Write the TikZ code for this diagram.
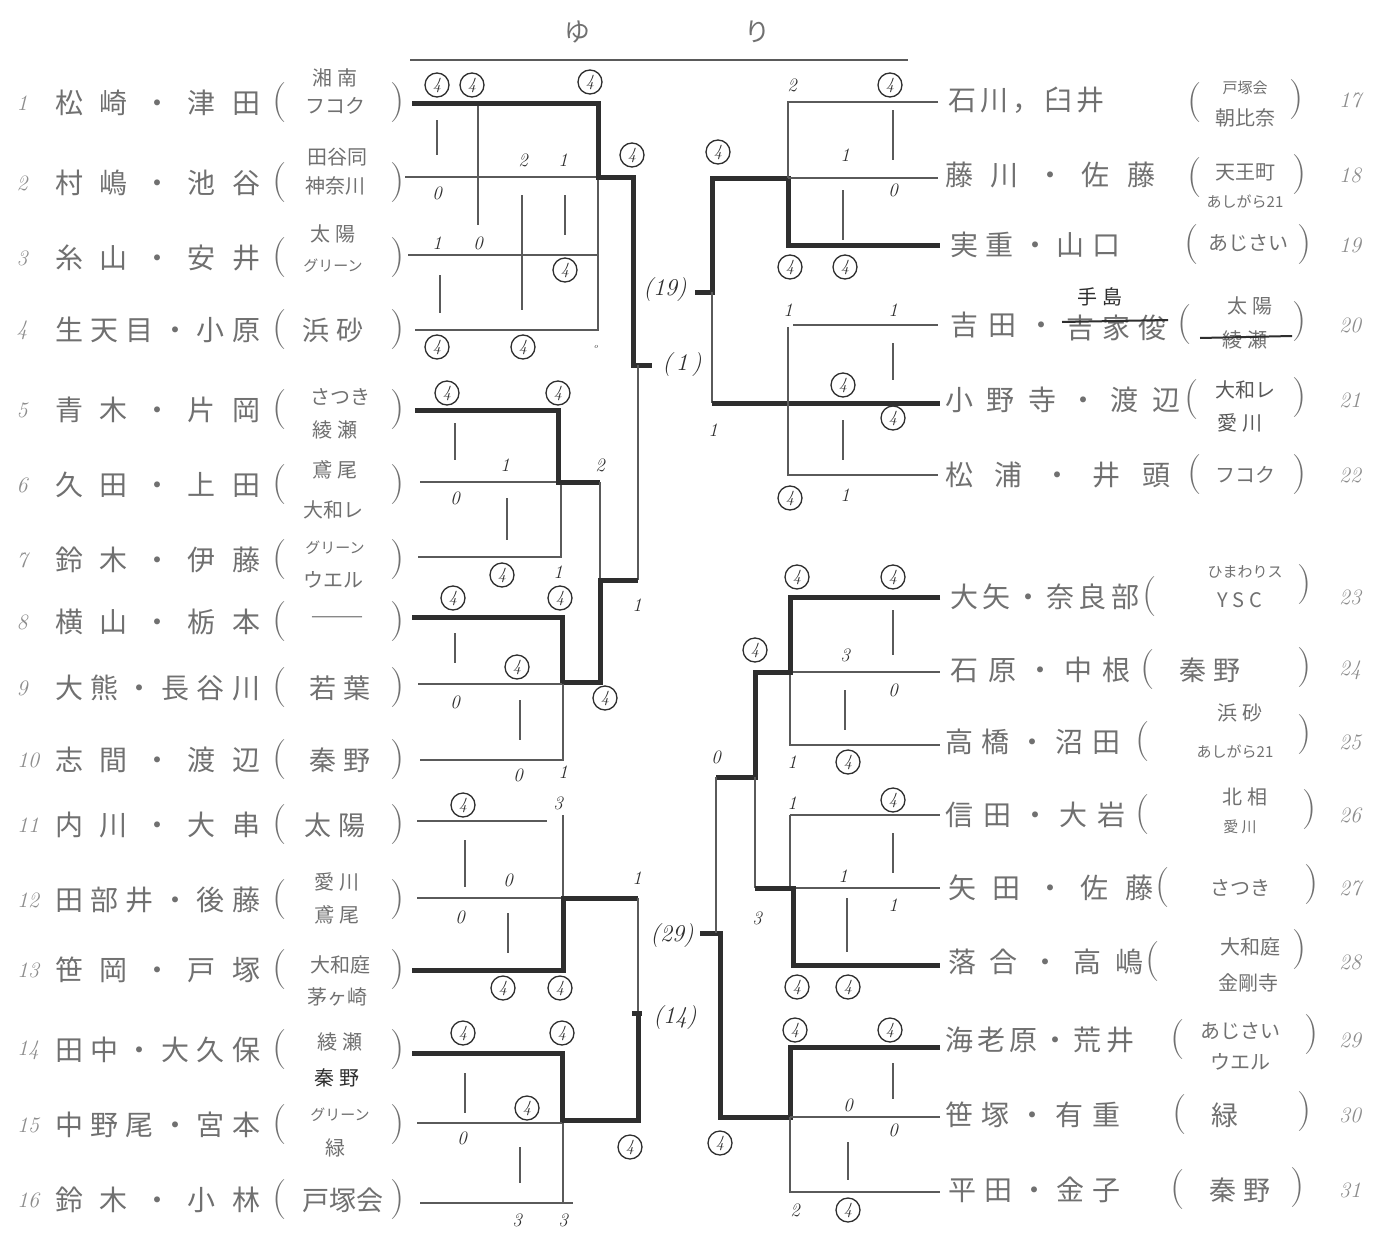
\documentclass[tikz,border=0pt]{standalone}
\usepackage{fontspec}
\newfontfamily\jp{Noto Sans CJK JP}
\definecolor{ink}{HTML}{2E2E2E}
\definecolor{pen}{HTML}{5A5A5A}
\definecolor{txt}{HTML}{707070}
\definecolor{paper}{HTML}{FFFFFF}
\tikzset{
  thinln/.style={draw=pen, line width=1.3pt},
  thickln/.style={draw=ink, line width=5pt, line join=miter},
  sc/.style={font=\fontsize{19}{19}\selectfont\itshape, text=ink, inner sep=0pt},
  cfour/.style={circle, draw=ink, line width=1.3pt, minimum size=24pt, inner sep=0pt, font=\fontsize{17}{17}\selectfont\itshape, text=ink},
  nm/.style={font=\fontsize{28}{28}\jp, text=txt, anchor=west, inner sep=0pt},
  num/.style={font=\fontsize{22}{22}\selectfont\itshape, text=txt!80, inner sep=0pt},
  par/.style={font=\fontsize{40}{40}\selectfont, text=txt, inner sep=0pt},
  club/.style={font=\fontsize{20}{20}\jp, text=txt, inner sep=0pt},
  clubs/.style={font=\fontsize{15}{15}\jp, text=txt, inner sep=0pt},
  clubl/.style={font=\fontsize{27}{27}\jp, text=txt, inner sep=0pt},
  lbl/.style={font=\fontsize{24}{24}\selectfont\itshape, text=ink, inner sep=0pt},
}
\newcommand\cf[3]{\node[cfour] (#1) at (#2,#3) {4};}
\newcommand\scr[4]{\node[sc] (#1) at (#2,#3) {#4};}
\newcommand\spread[2]{\makebox[#1][s]{#2}}
\begin{document}
\begin{tikzpicture}[x=1pt,y=-1pt]
\fill[paper] (0,0) rectangle (1383,1247);
\useasboundingbox (0,0) rectangle (1383,1247);

% title
\node[font=\fontsize{26}{26}\jp, text=txt] (ttl1) at (577,32) {ゆ};
\node[font=\fontsize{26}{26}\jp, text=txt] (ttl2) at (757,32) {り};
\draw[draw=pen, line width=1.2pt] (410,60) -- (908,60);

% ================= LEFT SIDE NAMES =================
\node[num] (n1) at (22,103) {1};
\node[nm] (m1) at (55,103) {\spread{205pt}{松 崎 ・ 津 田}};
\node[num] (n2) at (22,183) {2};
\node[nm] (m2) at (55,183) {\spread{205pt}{村 嶋 ・ 池 谷}};
\node[num] (n3) at (22,258) {3};
\node[nm] (m3) at (55,258) {\spread{205pt}{糸 山 ・ 安 井}};
\node[num] (n4) at (22,330) {4};
\node[nm] (m4) at (55,330) {\spread{205pt}{生 天 目 ・ 小 原}};
\node[num] (n5) at (22,410) {5};
\node[nm] (m5) at (55,410) {\spread{205pt}{青 木 ・ 片 岡}};
\node[num] (n6) at (22,485) {6};
\node[nm] (m6) at (55,485) {\spread{205pt}{久 田 ・ 上 田}};
\node[num] (n7) at (22,560) {7};
\node[nm] (m7) at (55,560) {\spread{205pt}{鈴 木 ・ 伊 藤}};
\node[num] (n8) at (22,622) {8};
\node[nm] (m8) at (55,622) {\spread{205pt}{横 山 ・ 栃 本}};
\node[num] (n9) at (22,688) {9};
\node[nm] (m9) at (55,688) {\spread{205pt}{大 熊 ・ 長 谷 川}};
\node[num] (n10) at (28,760) {10};
\node[nm] (m10) at (55,760) {\spread{205pt}{志 間 ・ 渡 辺}};
\node[num] (n11) at (28,825) {11};
\node[nm] (m11) at (55,825) {\spread{205pt}{内 川 ・ 大 串}};
\node[num] (n12) at (28,900) {12};
\node[nm] (m12) at (55,900) {\spread{205pt}{田 部 井 ・ 後 藤}};
\node[num] (n13) at (28,970) {13};
\node[nm] (m13) at (55,970) {\spread{205pt}{笹 岡 ・ 戸 塚}};
\node[num] (n14) at (28,1050) {14};
\node[nm] (m14) at (55,1050) {\spread{205pt}{田 中 ・ 大 久 保}};
\node[num] (n15) at (28,1125) {15};
\node[nm] (m15) at (55,1125) {\spread{205pt}{中 野 尾 ・ 宮 本}};
\node[num] (n16) at (28,1200) {16};
\node[nm] (m16) at (55,1200) {\spread{205pt}{鈴 木 ・ 小 林}};

% left parentheses
\foreach \yy [count=\i] in {103,183,258,330,410,485,560,622,688,760,825,900,970,1050,1125,1200}{
  \node[par] (lo\i) at (280,\yy) {(};
  \node[par] (lc\i) at (398,\yy) {)};
}
% left clubs
\node[club] (k1a) at (335,78) {湘 南};
\node[club] (k1b) at (335,106) {フコク};
\node[club] (k2a) at (337,157) {田谷同};
\node[club] (k2b) at (335,186) {神奈川};
\node[club] (k3a) at (333,234) {太 陽};
\node[clubs] (k3b) at (333,266) {グリーン};
\node[clubl] (k4) at (333,330) {浜 砂};
\node[club] (k5a) at (340,397) {さつき};
\node[club] (k5b) at (335,430) {綾 瀬};
\node[club] (k6a) at (335,470) {鳶 尾};
\node[club] (k6b) at (333,510) {大和レ};
\node[clubs] (k7a) at (335,548) {グリーン};
\node[club] (k7b) at (333,580) {ウエル};
\node[clubl] (k8) at (337,622) {――};
\node[clubl] (k9) at (340,688) {若 葉};
\node[clubl] (k10) at (340,760) {秦 野};
\node[clubl] (k11) at (335,825) {太 陽};
\node[club] (k12a) at (337,882) {愛 川};
\node[club] (k12b) at (337,915) {鳶 尾};
\node[club] (k13a) at (340,965) {大和庭};
\node[club] (k13b) at (337,997) {茅ヶ崎};
\node[club] (k14a) at (340,1042) {綾 瀬};
\node[club, text=ink] (k14b) at (337,1078) {秦 野};
\node[clubs] (k15a) at (340,1115) {グリーン};
\node[club] (k15b) at (335,1148) {緑};
\node[clubl] (k16) at (343,1200) {戸塚会};

% ================= RIGHT SIDE NAMES =================
\node[nm] (m17) at (948,100) {\spread{150pt}{石 川 ， 臼 井}};
\node[nm] (m18) at (945,175) {\spread{210pt}{藤 川 ・ 佐 藤}};
\node[nm] (m19) at (950,245) {\spread{170pt}{実 重 ・ 山 口}};
\node[nm] (m20) at (950,325) {\spread{105pt}{吉 田 ・}};
\node[nm] (m20x) at (1066,328) {\spread{100pt}{吉 家 俊}};
\draw[draw=ink, line width=2pt] (1062,322) -- (1168,320);
\node[club, text=ink] (m20y) at (1100,297) {手 島};
\node[nm] (m21) at (945,400) {\spread{235pt}{小 野 寺 ・ 渡 辺}};
\node[nm] (m22) at (945,475) {\spread{225pt}{松 浦 ・ 井 頭}};
\node[nm] (m23) at (950,597) {\spread{178pt}{大 矢 ・ 奈 良 部}};
\node[nm] (m24) at (950,670) {\spread{180pt}{石 原 ・ 中 根}};
\node[nm] (m25) at (945,742) {\spread{175pt}{高 橋 ・ 沼 田}};
\node[nm] (m26) at (945,815) {\spread{180pt}{信 田 ・ 大 岩}};
\node[nm] (m27) at (948,888) {\spread{205pt}{矢 田 ・ 佐 藤}};
\node[nm] (m28) at (948,962) {\spread{195pt}{落 合 ・ 高 嶋}};
\node[nm] (m29) at (945,1040) {\spread{175pt}{海 老 原 ・ 荒 井}};
\node[nm] (m30) at (945,1115) {\spread{175pt}{笹 塚 ・ 有 重}};
\node[nm] (m31) at (948,1190) {\spread{172pt}{平 田 ・ 金 子}};

% right parentheses
\node[par] (ro17) at (1195,103) {(};  \node[par] (rc17) at (1297,100) {)};
\node[par] (ro18) at (1195,178) {(};  \node[par] (rc18) at (1300,175) {)};
\node[par] (ro19) at (1192,245) {(};  \node[par] (rc19) at (1305,245) {)};
\node[par] (ro20) at (1185,325) {(};  \node[par] (rc20) at (1300,322) {)};
\node[par] (ro21) at (1192,400) {(};  \node[par] (rc21) at (1300,398) {)};
\node[par] (ro22) at (1195,475) {(};  \node[par] (rc22) at (1300,475) {)};
\node[par] (ro23) at (1150,597) {(};  \node[par] (rc23) at (1305,585) {)};
\node[par] (ro24) at (1148,670) {(};  \node[par] (rc24) at (1305,668) {)};
\node[par] (ro25) at (1143,742) {(};  \node[par] (rc25) at (1305,735) {)};
\node[par] (ro26) at (1143,815) {(};  \node[par] (rc26) at (1310,810) {)};
\node[par] (ro27) at (1163,888) {(};  \node[par] (rc27) at (1312,885) {)};
\node[par] (ro28) at (1153,962) {(};  \node[par] (rc28) at (1300,950) {)};
\node[par] (ro29) at (1178,1040) {(}; \node[par] (rc29) at (1312,1035) {)};
\node[par] (ro30) at (1180,1115) {(}; \node[par] (rc30) at (1305,1112) {)};
\node[par] (ro31) at (1178,1190) {(}; \node[par] (rc31) at (1298,1188) {)};

% right clubs
\node[clubs] (q17a) at (1245,88) {戸塚会};
\node[club] (q17b) at (1245,118) {朝比奈};
\node[club] (q18a) at (1245,172) {天王町};
\node[clubs] (q18b) at (1245,202) {あしがら21};
\node[club] (q19) at (1248,243) {あじさい};
\node[club] (q20a) at (1250,306) {太 陽};
\node[club] (q20b) at (1245,340) {綾 瀬};
\draw[draw=ink, line width=2pt] (1200,338) -- (1292,336);
\node[club, text=ink!80] (q21a) at (1245,390) {大和レ};
\node[club, text=ink!80] (q21b) at (1240,423) {愛 川};
\node[club] (q22) at (1245,475) {フコク};
\node[clubs] (q23a) at (1245,572) {ひまわりス};
\node[club] (q23b) at (1240,600) {Y S C};
\node[clubl] (q24) at (1210,670) {秦 野};
\node[club] (q25a) at (1240,713) {浜 砂};
\node[clubs] (q25b) at (1235,752) {あしがら21};
\node[club] (q26a) at (1245,797) {北 相};
\node[clubs] (q26b) at (1240,827) {愛 川};
\node[club] (q27) at (1240,888) {さつき};
\node[club] (q28a) at (1250,947) {大和庭};
\node[club] (q28b) at (1248,983) {金剛寺};
\node[club] (q29a) at (1240,1031) {あじさい};
\node[club] (q29b) at (1240,1062) {ウエル};
\node[clubl] (q30) at (1225,1115) {緑};
\node[clubl] (q31) at (1240,1190) {秦 野};

% right numbers
\foreach \yy/\nn in {100/17,175/18,245/19,325/20,400/21,475/22,597/23,670/24,742/25,815/26,888/27,962/28,1040/29,1115/30,1190/31}{
  \node[num] (rn\nn) at (1350,\yy) {\nn};
}

% ================= LEFT BRACKET =================
% group 1-4
\draw[thinln] (405,177) -- (598,177);
\draw[thinln] (408,255) -- (598,255);
\draw[thinln] (415,330) -- (598,330) -- (598,177);
\draw[thinln] (437,120) -- (437,155);
\draw[thinln] (478,103) -- (478,225);
\draw[thinln] (522,195) -- (522,310);
\draw[thinln] (565,195) -- (565,235);
\draw[thinln] (440,275) -- (440,313);
\draw[thickln] (412,103) -- (598,103) -- (598,177) -- (633,177) -- (633,365) -- (652,365);
\cf{a1}{437}{85} \cf{a2}{472}{85} \cf{a3}{590}{82}
\scr{a4}{523}{160}{2} \scr{a5}{563}{160}{1}
\scr{a6}{437}{193}{0}
\scr{a7}{437}{243}{1} \scr{a8}{478}{243}{0}
\cf{a9}{565}{270}
\cf{a10}{437}{347} \cf{a11}{523}{347} \scr{a12}{596}{347}{\scriptsize o}
\cf{a13}{632}{155}

% group 5-7 and 8-10
\draw[thinln] (420,482) -- (558,482);
\draw[thinln] (418,557) -- (561,557) -- (561,482);
\draw[thinln] (455,423) -- (455,460);
\draw[thinln] (507,498) -- (507,540);
\draw[thickln] (415,410) -- (558,410) -- (558,482) -- (600,482);
\draw[thinln] (600,482) -- (600,580);
\draw[thinln] (638,365) -- (638,580);
\draw[thickln] (412,617) -- (562,617) -- (562,682) -- (600,682) -- (600,580) -- (638,580);
\draw[thinln] (418,684) -- (562,684);
\draw[thinln] (420,760) -- (563,760) -- (563,684);
\draw[thinln] (455,633) -- (455,663);
\draw[thinln] (520,700) -- (520,740);
\cf{b1}{447}{393} \cf{b2}{558}{393}
\scr{b3}{505}{465}{1} \scr{b4}{600}{465}{2}
\scr{b5}{455}{498}{0}
\cf{b6}{502}{575} \scr{b7}{558}{572}{1}
\scr{b8}{637}{605}{1}
\cf{b9}{453}{598} \cf{b10}{560}{598}
\cf{b11}{517}{667}
\scr{b12}{455}{702}{0}
\cf{b13}{605}{698}
\scr{b14}{518}{775}{0} \scr{b15}{563}{772}{1}

% group 11-13 and 14-16
\draw[thinln] (417,821) -- (547,821);
\draw[thinln] (563,815) -- (563,898);
\draw[thinln] (417,898) -- (563,898);
\draw[thinln] (465,840) -- (465,887);
\draw[thinln] (508,913) -- (508,953);
\draw[thickln] (412,970) -- (563,970) -- (563,898) -- (638,898);
\draw[thinln] (638,898) -- (638,1013);
\draw[thickln] (632,1013) -- (642,1013);
\draw[thickln] (412,1053) -- (562,1053) -- (562,1120) -- (638,1120) -- (638,1013);
\draw[thinln] (417,1123) -- (562,1123);
\draw[thinln] (420,1203) -- (573,1203);
\draw[thinln] (563,1123) -- (563,1203);
\draw[thinln] (465,1073) -- (465,1113);
\draw[thinln] (520,1147) -- (520,1183);
\scr{c1}{558}{803}{3}
\cf{c2}{463}{805}
\scr{c3}{508}{880}{0}
\scr{c4}{637}{878}{1}
\scr{c5}{460}{917}{0}
\cf{c6}{503}{988} \cf{c7}{560}{988}
\cf{c8}{463}{1033} \cf{c9}{562}{1033}
\cf{c10}{527}{1108}
\scr{c11}{462}{1138}{0}
\cf{c12}{630}{1147}
\scr{c13}{517}{1220}{3} \scr{c14}{563}{1220}{3}

% ================= CENTER =================
\node[lbl] (p19) at (665,290) {(19)};
\node[lbl] (p1) at (682,365) {(\,1\,)};
\node[lbl] (p29) at (672,935) {(29)};
\node[lbl] (p14) at (675,1017) {(14)};
\draw[thickln] (695,292) -- (712,292) -- (712,178) -- (788,178) -- (788,245) -- (940,245);
\draw[thinln] (712,292) -- (712,403);
\draw[thickln] (712,403) -- (940,403);
\cf{d1}{718}{152}
\draw[thickln] (700,933) -- (720,933) -- (720,1117) -- (790,1117) -- (790,1047) -- (940,1047);
\cf{d2}{720}{1143}

% ================= RIGHT BRACKET =================
% 17-19
\draw[thinln] (938,102) -- (788,102) -- (788,178);
\draw[thinln] (788,178) -- (938,178);
\draw[thinln] (893,110) -- (893,160);
\draw[thinln] (843,190) -- (843,240);
\scr{e1}{792}{85}{2} \cf{e2}{890}{85}
\scr{e3}{845}{155}{1} \scr{e4}{893}{190}{0}
\cf{e5}{790}{267} \cf{e6}{845}{267}
% 20-22
\draw[thinln] (793,325) -- (938,325);
\draw[thinln] (788,327) -- (788,475) -- (938,475);
\draw[thinln] (893,343) -- (893,380);
\draw[thinln] (843,420) -- (843,460);
\scr{e7}{788}{310}{1} \scr{e8}{893}{310}{1}
\cf{e9}{843}{385} \cf{e10}{893}{418}
\scr{e11}{713}{430}{1}
\cf{e12}{790}{498} \scr{e13}{845}{495}{1}

% 23-25
\draw[thinln] (790,672) -- (940,672);
\draw[thinln] (790,672) -- (790,745) -- (940,745);
\draw[thinln] (893,610) -- (893,655);
\draw[thinln] (845,690) -- (845,730);
\draw[thickln] (940,597) -- (790,597) -- (790,672) -- (755,672) -- (755,777) -- (716,777);
\draw[thinln] (716,777) -- (716,933);
\draw[thinln] (755,777) -- (755,888);
\cf{f1}{797}{577} \cf{f2}{893}{577}
\cf{f3}{755}{650}
\scr{f4}{845}{655}{3} \scr{f5}{893}{690}{0}
\scr{f6}{792}{762}{1} \cf{f7}{848}{762}
\scr{f8}{716}{757}{0}
% 26-28
\draw[thinln] (790,815) -- (940,815);
\draw[thinln] (790,815) -- (790,888);
\draw[thinln] (793,888) -- (940,888);
\draw[thinln] (893,833) -- (893,873);
\draw[thinln] (847,898) -- (847,952);
\draw[thickln] (755,888) -- (793,888) -- (793,965) -- (940,965);
\scr{f9}{792}{803}{1} \cf{f10}{893}{800}
\scr{f11}{843}{876}{1} \scr{f12}{893}{905}{1}
\scr{f13}{757}{918}{3}
\cf{f14}{797}{987} \cf{f15}{848}{987}
% 29-31
\draw[thinln] (790,1117) -- (940,1117);
\draw[thinln] (790,1117) -- (790,1192) -- (940,1192);
\draw[thinln] (893,1063) -- (893,1099);
\draw[thinln] (848,1142) -- (848,1180);
\cf{g1}{795}{1030} \cf{g2}{890}{1030}
\scr{g3}{848}{1105}{0} \scr{g4}{893}{1130}{0}
\scr{g5}{795}{1210}{2} \cf{g6}{848}{1210}
\end{tikzpicture}
\end{document}
